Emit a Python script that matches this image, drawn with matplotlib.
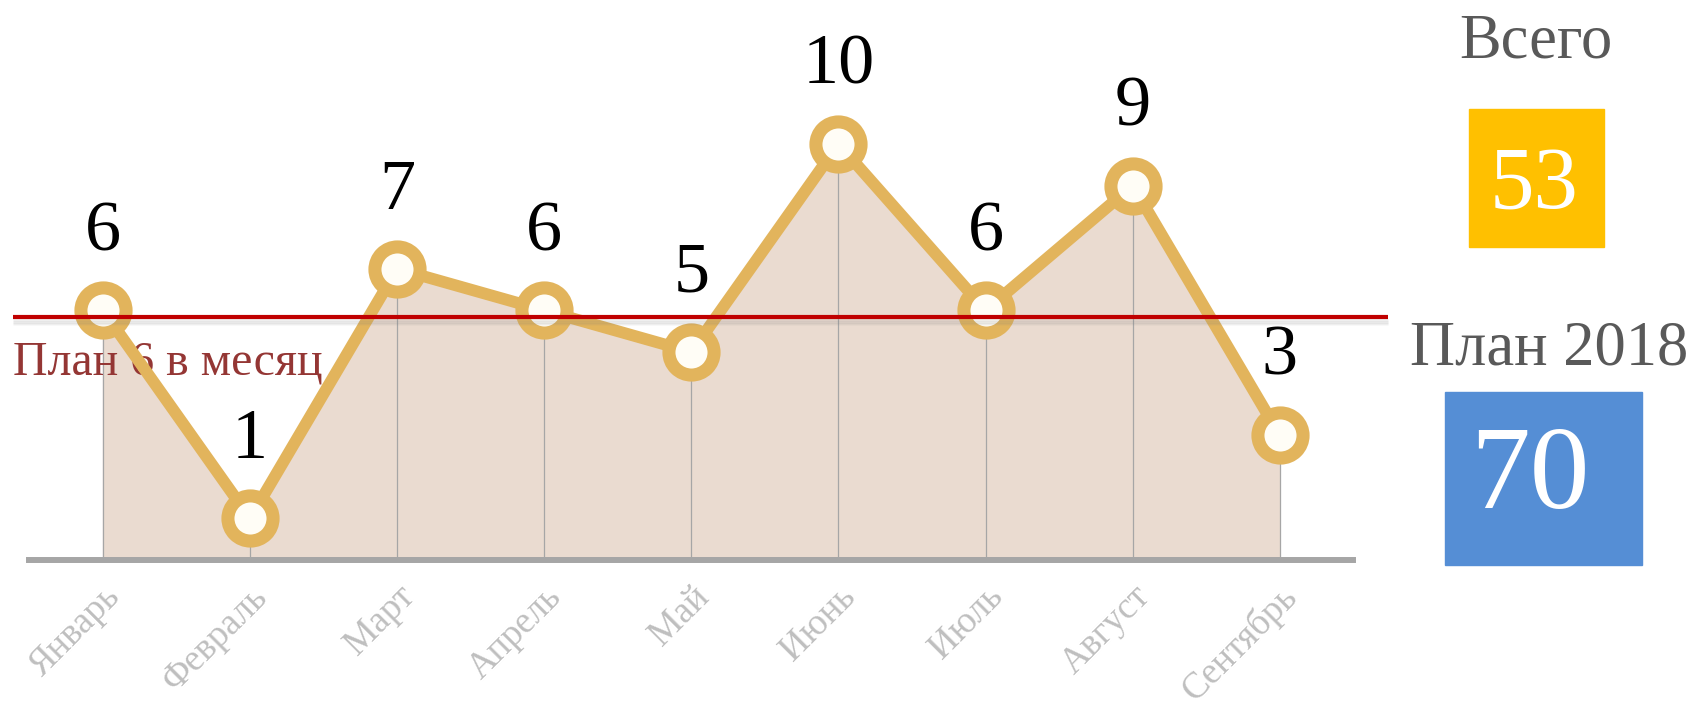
import numpy as np
import matplotlib
matplotlib.use("Agg")
import matplotlib.pyplot as plt
import matplotlib.transforms as mtrans
from matplotlib.patches import Rectangle

plt.rcParams['font.family'] = ['Liberation Serif', 'DejaVu Serif']

# данные
months = ['Январь', 'Февраль', 'Март', 'Апрель', 'Май', 'Июнь', 'Июль', 'Август', 'Сентябрь']
values = [6, 1, 7, 6, 5, 10, 6, 9, 3]
plan_month = 6
total = 53
plan_year = 70

gold = '#E2B45C'
fill = '#EADBD0'
grey = '#A6A6A6'

fig = plt.figure(figsize=(16.96, 7.07), dpi=100)
# ось: по горизонтали 0..1400px, низ на базовой линии (560px сверху)
ax = fig.add_axes([0, 147/707, 1400/1696, 560/707])
x = np.arange(len(values))
ax.set_xlim(-0.700, 8.817)
ax.set_ylim(0, 560/41.6)

ax.fill_between(x, values, 0, color=fill, zorder=1)
ax.vlines(x, 0, values, color=grey, lw=0.9, zorder=2)
ax.plot(x, values, color=gold, lw=8.5, zorder=3, solid_capstyle='round',
        marker='o', markersize=32.5, markerfacecolor='#FFFDF6',
        markeredgecolor=gold, markeredgewidth=9.4)

# линия плана с тенью (в оригинале чуть ниже отметки 6)
plan_tr = mtrans.offset_copy(ax.transData, fig=fig, y=-5, units='points')
for dy, a in [(-5, 0.06), (-4, 0.08), (-3, 0.10), (-2, 0.12)]:
    tr = mtrans.offset_copy(ax.transData, fig=fig, y=-5 + dy, units='points')
    ax.plot([-0.612, 8.735], [plan_month, plan_month], color='grey', lw=2,
            alpha=a, zorder=4, solid_capstyle='butt', transform=tr)
ax.plot([-0.612, 8.735], [plan_month, plan_month], color='#C00000', lw=3,
        zorder=5, solid_capstyle='butt', transform=plan_tr)
ax.text(-0.612, plan_month - 0.55, 'План %d в месяц' % plan_month, color='#943634',
        fontsize=34.5, ha='left', va='top', zorder=2.5, transform=plan_tr)

# подписи значений
for xi, v in zip(x, values):
    ax.annotate(str(v), (xi, v), xytext=(0, 56), textcoords='offset points',
                ha='center', va='center', fontsize=52, color='black', zorder=6)

for s in ['top', 'right', 'left']:
    ax.spines[s].set_visible(False)
ax.spines['bottom'].set_color(grey)
ax.spines['bottom'].set_linewidth(4.3)
ax.spines['bottom'].set_bounds(-0.5, 8.5)
ax.spines['bottom'].set_zorder(6)
ax.set_yticks([])
ax.set_xticks(x)
ax.set_xticklabels(months, rotation=45, ha='right', rotation_mode='anchor',
                   fontsize=26.5, color='#BFBFBF')
ax.tick_params(axis='x', length=0, pad=14)

# правая панель
fig.text(0.9057, 0.940, 'Всего', fontsize=45, color='#595959', ha='center', va='center')
fig.patches.append(Rectangle((1469/1696, 460/707), 135/1696, 138/707,
                             transform=fig.transFigure, color='#FFC000'))
fig.text(0.9045, 0.737, str(total), fontsize=64, color='white', ha='center', va='center')
fig.text(0.9133, 0.506, 'План 2018', fontsize=45, color='#595959', ha='center', va='center')
fig.patches.append(Rectangle((1445/1696, 142/707), 197/1696, 173/707,
                             transform=fig.transFigure, color='#558ED5'))
fig.text(0.902, 0.322, str(plan_year), fontsize=86, color='white', ha='center', va='center')

plt.savefig('out.png', dpi=100)
